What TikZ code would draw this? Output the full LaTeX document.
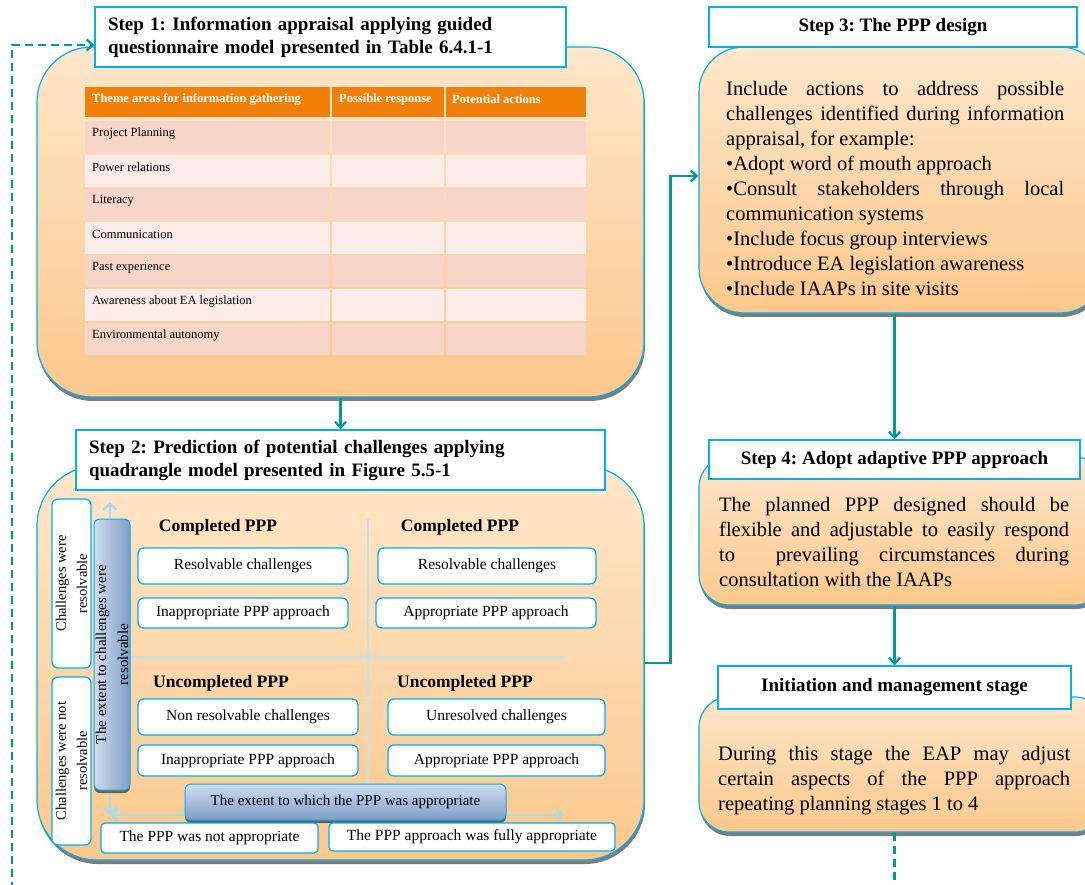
\documentclass[tikz,border=0pt]{standalone}
\usepackage{fontspec}
\setmainfont{Liberation Serif}
\usetikzlibrary{arrows.meta,shadows,calc}
\setlength{\parindent}{0pt}
\frenchspacing

\definecolor{sky}{RGB}{0,176,240}
\definecolor{flowteal}{RGB}{0,153,153}
\definecolor{peachtop}{RGB}{254,231,203}
\definecolor{peachbot}{RGB}{252,200,140}
\definecolor{hdrorange}{RGB}{240,128,10}
\definecolor{rowA}{RGB}{247,214,201}
\definecolor{rowB}{RGB}{251,236,232}
\definecolor{barlight}{RGB}{208,220,238}
\definecolor{bardark}{RGB}{128,158,200}
\definecolor{axisblue}{RGB}{168,220,235}
\definecolor{divblue}{RGB}{192,228,238}
\definecolor{shadowgray}{RGB}{125,125,125}
\definecolor{barshadow}{RGB}{110,95,80}

\tikzset{
  panel/.style={draw=sky, line width=1.2pt, top color=peachtop, bottom color=peachbot,
    inner sep=0pt,
    drop shadow={shadow xshift=1pt, shadow yshift=-4pt, fill=shadowgray, opacity=1}},
  titlebox/.style={draw=sky, line width=1.3pt, fill=white, inner sep=0pt,
    font=\fontsize{19}{23}\selectfont\bfseries},
  bodytext/.style={inner sep=0pt, align=justify,
    font=\fontsize{20.5}{25}\selectfont},
  tabhead/.style={inner sep=0pt, anchor=west, text=white,
    font=\fontsize{12.5}{14}\selectfont\bfseries},
  tabtext/.style={inner sep=0pt, anchor=west,
    font=\fontsize{12.5}{14}\selectfont},
  sidebox/.style={draw=sky, line width=1.3pt, fill=white, rounded corners=6pt,
    inner sep=0pt, align=center, font=\fontsize{14.5}{21}\selectfont},
  quadbox/.style={draw=sky, line width=1.3pt, fill=white, rounded corners=6pt,
    inner sep=0pt, align=center, font=\fontsize{15.5}{18}\selectfont},
  quadhead/.style={inner sep=0pt, font=\fontsize{17.5}{20}\selectfont\bfseries},
  barbase/.style={draw=sky, line width=1pt, rounded corners=6pt, inner sep=0pt,
    align=center, font=\fontsize{15}{22}\selectfont,
    drop shadow={shadow xshift=0pt, shadow yshift=-3pt, fill=barshadow, opacity=1}},
  hbar/.style={barbase, top color=barlight, bottom color=bardark},
  vbar/.style={barbase, left color=barlight, right color=bardark},
  bartext/.style={inner sep=0pt, align=center, font=\fontsize{15}{22}\selectfont},
  axisline/.style={draw=axisblue, line width=2.5pt,
    {Straight Barb[length=6pt,width=13pt]}-{Straight Barb[length=6pt,width=13pt]}},
  divider/.style={draw=divblue, line width=2pt},
  flowarrow/.style={draw=flowteal, line width=2.3pt,
    -{Straight Barb[length=6pt,width=11pt]}},
  loopline/.style={draw=flowteal, line width=2.3pt, dash pattern=on 8pt off 5pt},
}

\begin{document}
\begin{tikzpicture}[x=1pt,y=-1pt]
\clip (0,0) rectangle (1085,885);
\fill[white] (0,0) rectangle (1085,885);

% ---------------- Step 1 ----------------
\node[panel, rounded corners=55pt, minimum width=607pt, minimum height=350pt] (s1box) at (340.5,222) {};
\node[titlebox, minimum width=471pt, minimum height=60pt, text width=445pt, align=left] (s1title) at (330.5,37)
  {Step 1: Information appraisal applying guided\\questionnaire model presented in Table 6.4.1-1};

% questionnaire table
\fill[hdrorange] (85,87) rectangle (330,117);
\fill[hdrorange] (332,87) rectangle (444,117);
\fill[hdrorange] (446,87) rectangle (586,117);
\node[tabhead] (th1) at (92,99) {Theme areas for information gathering};
\node[tabhead] (th2) at (339,99) {Possible response};
\node[tabhead] (th3) at (452,99) {Potential actions};
\foreach \i/\txt/\c in {0/Project Planning/rowA, 1/Power relations/rowB, 2/Literacy/rowA,
    3/Communication/rowB, 4/Past experience/rowA, 5/Awareness about EA legislation/rowB,
    6/Environmental autonomy/rowA}{
  \pgfmathsetmacro\rt{121+\i*33.6}
  \pgfmathsetmacro\rb{\rt+32}
  \fill[\c] (85,\rt) rectangle (330,\rb);
  \fill[\c] (332,\rt) rectangle (444,\rb);
  \fill[\c] (446,\rt) rectangle (586,\rb);
  \node[tabtext] (row\i) at (92,\rt+12.5) {\txt};
}

% ---------------- Step 2 ----------------
\node[panel, rounded corners=60pt, minimum width=607pt, minimum height=394pt] (s2box) at (340.5,663) {};
\node[titlebox, minimum width=529pt, minimum height=60pt, text width=503pt, align=left] (s2title) at (340.5,460)
  {Step 2: Prediction of potential challenges applying\\quadrangle model presented in Figure 5.5-1};

\draw[flowarrow] (s1box.south) -- (s2title.north);

% side labels
\node[sidebox, rotate=90, minimum width=169pt, minimum height=39pt] (cwr) at (71.5,583.5)
  {Challenges were\\resolvable};
\node[sidebox, rotate=90, minimum width=168pt, minimum height=39pt] (cwnr) at (71.5,761)
  {Challenges were not\\resolvable};

% axes of the quadrangle
\coordinate (axc) at (110,815);
\coordinate (axtop) at (110,502);
\coordinate (axright) at (564,815);
\draw[axisline] (axtop) -- (axc);
\draw[axisline] (axc) -- (axright);

% quadrant dividers
\coordinate (dvt) at (368,519);
\coordinate (dvb) at (368,783);
\coordinate (dhl) at (131,657);
\coordinate (dhr) at (566,657);
\draw[divider] (dvt) -- (dvb);
\draw[divider] (dhl) -- (dhr);

% axis bars
\node[vbar, minimum width=36pt, minimum height=271pt] (vaxis) at (112,654.5) {};
\node[bartext, rotate=90] (vaxistext) at (vaxis.center) {The extent to challenges were\\resolvable};
\node[hbar, minimum width=321pt, minimum height=36pt] (haxis) at (345.5,802)
  {The extent to which the PPP was appropriate};

% quadrants
\node[quadhead] (qh1) at (218,527) {Completed PPP};
\node[quadbox, minimum width=210pt, minimum height=36pt] (q1a) at (243,566) {Resolvable challenges};
\node[quadbox, minimum width=210pt, minimum height=30pt] (q1b) at (243,613) {Inappropriate PPP approach};

\node[quadhead] (qh2) at (460,527) {Completed PPP};
\node[quadbox, minimum width=218pt, minimum height=36pt] (q2a) at (487,566) {Resolvable challenges};
\node[quadbox, minimum width=220pt, minimum height=30pt] (q2b) at (486,613) {Appropriate PPP approach};

\node[quadhead] (qh3) at (221,683) {Uncompleted PPP};
\node[quadbox, minimum width=220pt, minimum height=36pt] (q3a) at (248,717) {Non resolvable challenges};
\node[quadbox, minimum width=220pt, minimum height=31pt] (q3b) at (248,760.5) {Inappropriate PPP approach};

\node[quadhead] (qh4) at (465,683) {Uncompleted PPP};
\node[quadbox, minimum width=217pt, minimum height=36pt] (q4a) at (496.5,717) {Unresolved challenges};
\node[quadbox, minimum width=217pt, minimum height=31pt] (q4b) at (496.5,760.5) {Appropriate PPP approach};

\node[quadbox, rounded corners=4pt, minimum width=217pt, minimum height=30pt] (notapp) at (209.5,838)
  {The PPP was not appropriate};
\node[quadbox, rounded corners=4pt, minimum width=286pt, minimum height=28pt] (fullapp) at (472,837)
  {The PPP approach was fully appropriate};

% ---------------- Step 3 ----------------
\node[panel, rounded corners=45pt, minimum width=406pt, minimum height=266pt] (s3box) at (902,180) {};
\node[titlebox, minimum width=368pt, minimum height=40pt] (s3title) at (893,27) {Step 3: The PPP design};
\node[bodytext, text width=338pt, anchor=north west] (s3text) at (726,81)
  {Include actions to address possible\linebreak
   challenges identified during information\linebreak
   appraisal, for example:\\
   •Adopt word of mouth approach\\
   •Consult stakeholders through local\linebreak
   communication systems\\
   •Include focus group interviews\\
   •Introduce EA legislation awareness\\
   •Include IAAPs in site visits};

\draw[flowarrow] (s2box.east) -- ++(26,0) |- ([yshift=4pt]s3box.west);

% ---------------- Step 4 ----------------
\node[panel, rounded corners=30pt, minimum width=406pt, minimum height=148pt] (s4box) at (902,531) {};
\node[titlebox, minimum width=371pt, minimum height=39pt] (s4title) at (894.5,459.5) {Step 4: Adopt adaptive PPP approach};
\node[bodytext, text width=350pt, anchor=north west] (s4text) at (719,497)
  {The planned PPP designed should be\linebreak
   flexible and adjustable to easily respond\linebreak
   to\ \ prevailing circumstances during\linebreak
   consultation with the IAAPs};

\draw[flowarrow] (s4title.north |- s3box.south) -- (s4title.north);

% ---------------- Initiation and management ----------------
\node[panel, rounded corners=30pt, minimum width=406pt, minimum height=135pt] (ibox) at (902,764.5) {};
\node[titlebox, minimum width=353pt, minimum height=43pt] (ititle) at (894.5,687.5) {Initiation and management stage};
\node[bodytext, text width=352pt, anchor=north west] (itext) at (718,746)
  {During this stage the EAP may adjust\linebreak
   certain aspects of the PPP approach\linebreak
   repeating planning stages 1 to 4};

\draw[flowarrow] (ititle.north |- s4box.south) -- (ititle.north);

% feedback loop back to step 1
\coordinate (loopout) at (894.5,890);
\coordinate (loopin) at (12,890);
\draw[loopline] (ititle.south |- ibox.south) -- (loopout);
\draw[loopline, -{Straight Barb[length=6pt,width=11pt]}] (loopin) |- ([yshift=-8pt]s1title.west);

\end{tikzpicture}
\end{document}
